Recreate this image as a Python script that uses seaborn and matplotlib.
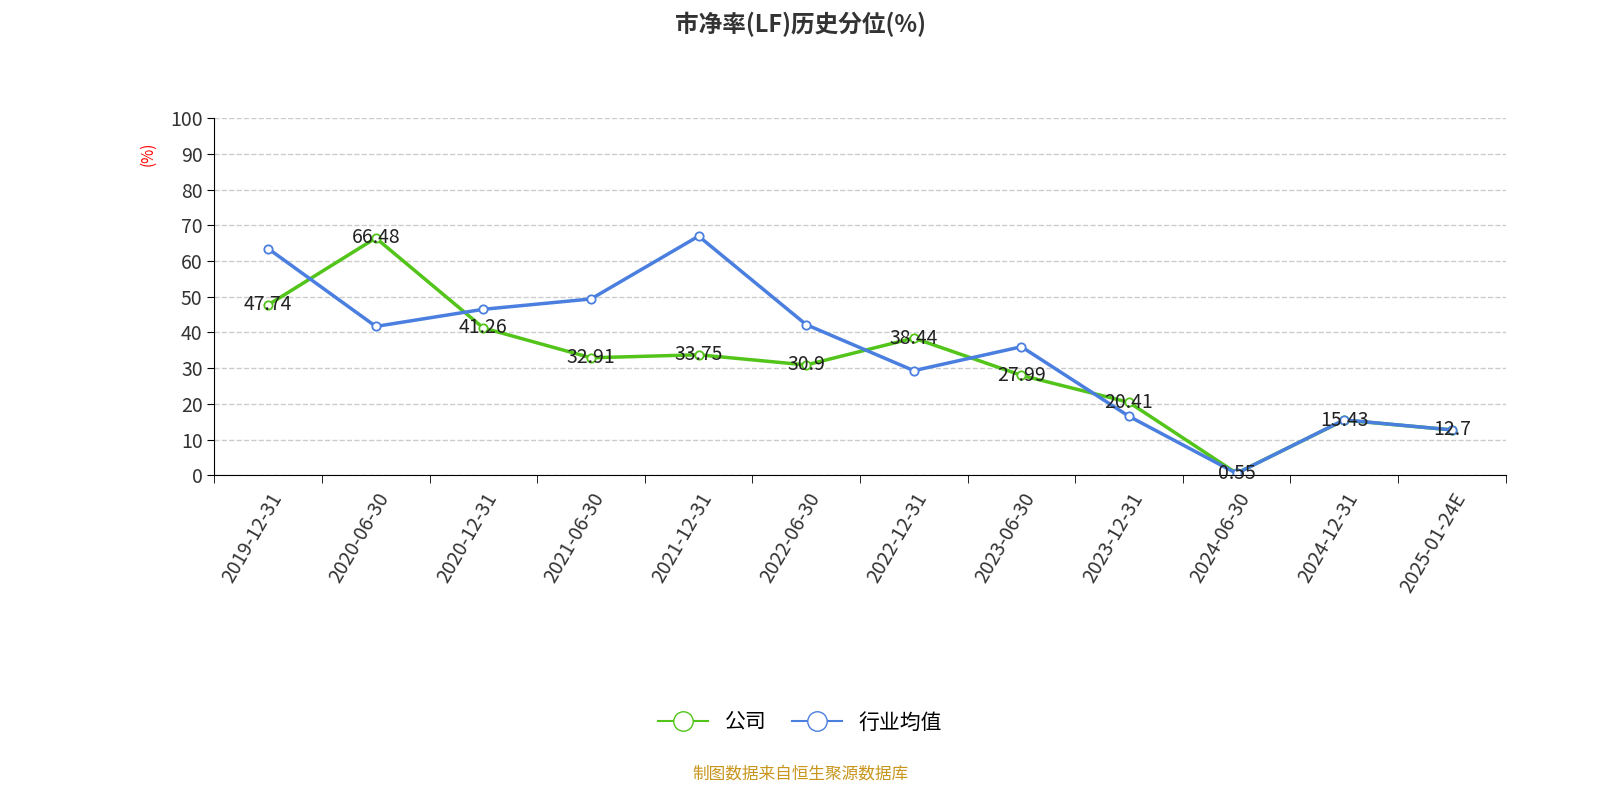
import matplotlib
matplotlib.use('Agg')
import matplotlib.pyplot as plt
import pandas as pd
import seaborn as sns
from matplotlib.lines import Line2D

plt.rcParams['font.family'] = ['Noto Sans CJK SC', 'Noto Sans CJK JP', 'Noto Sans CJK TC',
                               'Noto Sans CJK KR', 'DejaVu Sans']

dates = ['2019-12-31', '2020-06-30', '2020-12-31', '2021-06-30', '2021-12-31', '2022-06-30',
         '2022-12-31', '2023-06-30', '2023-12-31', '2024-06-30', '2024-12-31', '2025-01-24E']
company = [47.74, 66.48, 41.26, 32.91, 33.75, 30.9, 38.44, 27.99, 20.41, 0.55, 15.43, 12.7]
industry = [63.5, 41.7, 46.5, 49.4, 67.0, 42.2, 29.3, 36.0, 16.5, 0.5, 15.5, 12.7]

GREEN, BLUE = '#52c41a', '#4a7fe0'

df = pd.DataFrame({'x': range(len(dates)), '公司': company, '行业均值': industry})
long = df.melt(id_vars='x', var_name='series', value_name='value')

fig = plt.figure(figsize=(16, 8), dpi=100)
ax = fig.add_axes([0.134, 0.406, 0.807, 0.446])
sns.lineplot(data=long, x='x', y='value', hue='series', palette=[GREEN, BLUE],
             marker='o', markersize=6, markerfacecolor='white', markeredgewidth=1.3,
             linewidth=2.5, ax=ax, legend=False)
for l, c in zip(ax.lines, [GREEN, BLUE]):
    l.set_markeredgecolor(c)

for i, v in enumerate(company):
    ax.text(i, v, f'{v:g}', ha='center', va='center', fontsize=14, color='#222')

ax.set_xlim(-0.5, len(dates) - 0.5)
ax.set_ylim(0, 100)
ax.set_yticks(range(0, 101, 10))
ax.set_xticks(range(len(dates)))
ax.set_xticklabels(dates, rotation=60, ha='right', rotation_mode='anchor', fontsize=14, color='#333')
ax.tick_params(axis='x', length=0, pad=10)
ax.set_xticks([i - 0.5 for i in range(len(dates) + 1)], minor=True)
ax.tick_params(axis='x', which='minor', length=6)
ax.tick_params(axis='y', labelsize=14, labelcolor='#333', length=5)
ax.grid(axis='y', linestyle='--', color='#cccccc', linewidth=1)
ax.grid(axis='x', visible=False)
for s in ['top', 'right']:
    ax.spines[s].set_visible(False)
ax.set_xlabel('')
ax.set_ylabel('(%)', color='red', fontsize=11, labelpad=-2)
ax.yaxis.set_label_coords(-0.045, 0.9)

fig.suptitle('市净率(LF)历史分位(%)', y=0.985, fontsize=17, fontweight='bold', color='#333')

handles = [Line2D([], [], color=c, marker='o', markersize=14, markerfacecolor='white',
                  linewidth=1.5) for c in [GREEN, BLUE]]
fig.legend(handles, ['公司', '行业均值'], loc='center', bbox_to_anchor=(0.5, 0.097), ncol=2,
           frameon=False, fontsize=15, handlelength=2.4, columnspacing=1.2)
fig.text(0.5, 0.033, '制图数据来自恒生聚源数据库', ha='center', va='center', fontsize=12, color='#c8961e')

fig.savefig('out.png', dpi=100)
